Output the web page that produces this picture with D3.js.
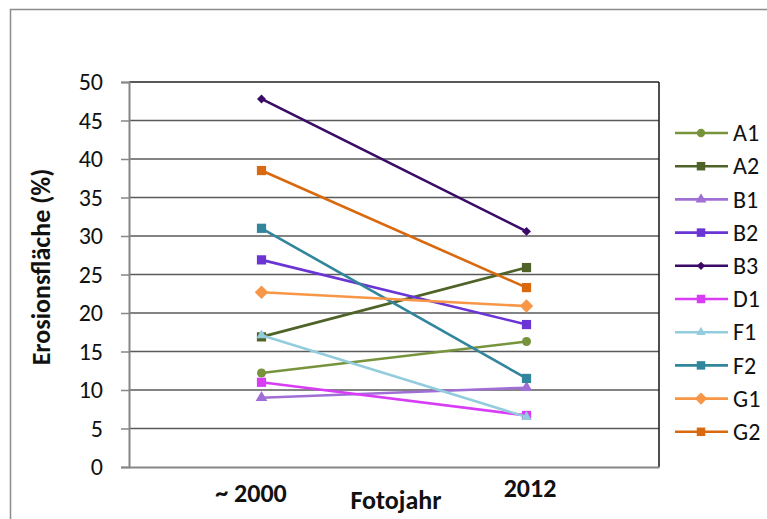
<!DOCTYPE html>
<html><head><meta charset="utf-8">
<script src="https://cdn.jsdelivr.net/npm/d3@7"></script>
<style>body{margin:0;background:#fff}svg{display:block;font-family:Carlito,Lato,sans-serif}</style>
</head><body><svg id="c" width="767" height="519"></svg>
<script>
const categories = ["~ 2000", "2012"];
const seriesNames = ["A1","A2","B1","B2","B3","D1","F1","F2","G1","G2"];
const A1 = [12.2, 16.3];
const A2 = [16.9, 25.9];
const B1 = [9.0, 10.3];
const B2 = [26.9, 18.5];
const B3 = [47.8, 30.6];
const D1 = [11.0, 6.7];
const F1 = [17.1, 6.5];
const F2 = [31.0, 11.5];
const G1 = [22.7, 20.9];
const G2 = [38.5, 23.3];
const yTicks = [0,5,10,15,20,25,30,35,40,45,50];

const seriesValues = {A1,A2,B1,B2,B3,D1,F1,F2,G1,G2};
const colors = {A1:"#77933c",A2:"#4f6228",B1:"#9f6fd6",B2:"#6a35d4",B3:"#3b0a66",D1:"#d83cf5",F1:"#93cddd",F2:"#31859c",G1:"#f79646",G2:"#d8690e"};
const markers = {A1:"circle",A2:"square",B1:"triangle",B2:"square",B3:"diamond",D1:"square",F1:"triangle",F2:"square",G1:"diamond",G2:"square"};
const mSize = {A1:64,A2:85,B1:60,B2:85,B3:40,D1:85,F1:45,F2:85,G1:90,G2:85};

const svg = d3.select("#c");
const L=129,R=659,T=82,B=467;
svg.append("rect").attr("x",10.5).attr("y",9.5).attr("width",790).attr("height",540).attr("fill","none").attr("stroke","#8c8c8c").attr("stroke-width",1.5);

const x = d3.scalePoint().domain(categories).range([L,R]).padding(0.5);
const y = d3.scaleLinear().domain([0,50]).range([B,T]);

svg.append("g").selectAll("line").data(yTicks.filter(t=>t>0)).join("line")
 .attr("x1",L).attr("x2",R).attr("y1",d=>y(d)).attr("y2",d=>y(d))
 .attr("stroke",d=>d===50?"#222":"#5a5a5a").attr("stroke-width",d=>d===50?1.6:1.3);
svg.append("line").attr("x1",R).attr("x2",R).attr("y1",T).attr("y2",B).attr("stroke","#222").attr("stroke-width",1.6);

const yAxis = d3.axisLeft(y).tickValues(yTicks).tickSize(8).tickPadding(18);
const gy = svg.append("g").attr("transform",`translate(${L},0)`).call(yAxis);
gy.select(".domain").attr("stroke","#868686").attr("stroke-width",2);
gy.selectAll(".tick line").attr("stroke","#868686").attr("stroke-width",1.5);
gy.selectAll(".tick text").attr("font-size",24).attr("fill","#111").attr("font-family","Carlito,Lato,sans-serif").attr("dy","0.33em");

const xAxis = d3.axisBottom(x).tickSize(0).tickPadding(0);
const gx = svg.append("g").attr("transform",`translate(0,${B})`).call(xAxis);
gx.select(".domain").attr("stroke","#868686").attr("stroke-width",2);
gx.selectAll(".tick text").attr("font-size",26).attr("font-weight","bold").attr("fill","#111").attr("font-family","Carlito,Lato,sans-serif").attr("dy",null).attr("y",30).attr("dx",3);
gx.selectAll(".tick").filter(d=>d==="~ 2000").select("text").attr("dx",-11).attr("y",35);

svg.append("text").attr("x",396).attr("y",509).attr("text-anchor","middle").attr("font-size",26).attr("font-weight","bold").attr("fill","#111").text("Fotojahr");
svg.append("text").attr("transform","translate(50,267) rotate(-90)").attr("text-anchor","middle").attr("font-size",26).attr("font-weight","bold").attr("fill","#111").text("Erosionsfläche (%)");

function markerPath(type,size){
  if(type==="diamond") return d3.symbol().type(d3.symbolSquare).size(size)();
  const t={circle:d3.symbolCircle,square:d3.symbolSquare,triangle:d3.symbolTriangle}[type];
  return d3.symbol().type(t).size(size)();
}
const rot = t => t==="diamond" ? " rotate(45)" : "";
const line = d3.line().x((d,i)=>x(categories[i])).y(d=>y(d));
seriesNames.forEach(n=>{
  const g = svg.append("g");
  g.append("path").datum(seriesValues[n]).attr("d",line).attr("fill","none").attr("stroke",colors[n]).attr("stroke-width",2.6);
  g.selectAll("path.m").data(seriesValues[n]).join("path").attr("class","m")
   .attr("transform",(d,i)=>`translate(${x(categories[i])},${y(d)})${rot(markers[n])}`)
   .attr("d",markerPath(markers[n],mSize[n])).attr("fill",colors[n]);
});

const lg = svg.append("g");
seriesNames.forEach((n,i)=>{
  const yy = 133 + i*33.2;
  lg.append("line").attr("x1",675).attr("x2",728).attr("y1",yy).attr("y2",yy).attr("stroke",colors[n]).attr("stroke-width",2.6);
  lg.append("path").attr("transform",`translate(701,${yy})${rot(markers[n])}`).attr("d",markerPath(markers[n],mSize[n]*0.85)).attr("fill",colors[n]);
  lg.append("text").attr("x",733).attr("y",yy).attr("dy","0.34em").attr("font-size",24).attr("fill","#111").text(n);
});
</script></body></html>
